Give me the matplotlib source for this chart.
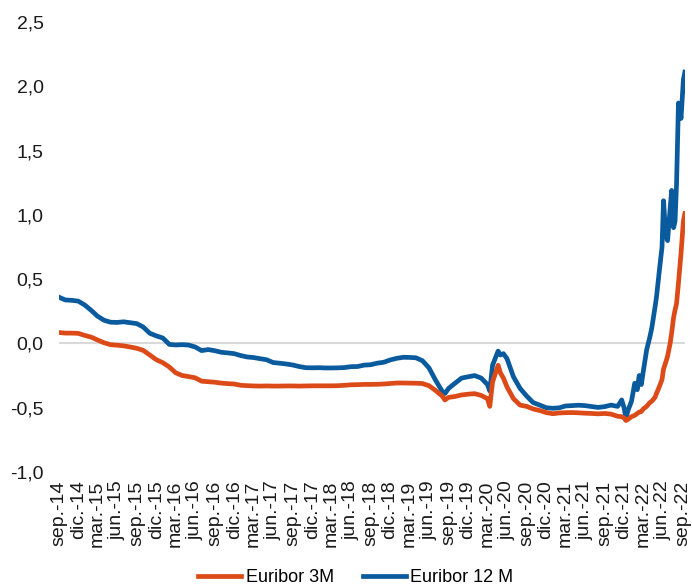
import matplotlib
matplotlib.use("Agg")
import matplotlib.pyplot as plt
import pandas as pd
from matplotlib.ticker import FuncFormatter

plt.rcParams['font.family'] = ['Liberation Sans', 'DejaVu Sans']

# Euribor observations (%), one shared date axis for both tenors
fechas = [
    "2014-09-01", "2014-10-01", "2014-11-01", "2014-12-01",
    "2015-01-01", "2015-02-01", "2015-03-01", "2015-04-01", "2015-05-01", "2015-06-01",
    "2015-07-01", "2015-08-01", "2015-09-01", "2015-10-01", "2015-11-01", "2015-12-01",
    "2016-01-01", "2016-02-01", "2016-03-01", "2016-04-01", "2016-05-01", "2016-06-01",
    "2016-07-01", "2016-08-01", "2016-09-01", "2016-10-01", "2016-11-01", "2016-12-01",
    "2017-01-01", "2017-02-01", "2017-03-01", "2017-04-01", "2017-05-01", "2017-06-01",
    "2017-07-01", "2017-08-01", "2017-09-01", "2017-10-01", "2017-11-01", "2017-12-01",
    "2018-01-01", "2018-02-01", "2018-03-01", "2018-04-01", "2018-05-01", "2018-06-01",
    "2018-07-01", "2018-08-01", "2018-09-01", "2018-10-01", "2018-11-01", "2018-12-01",
    "2019-01-01", "2019-02-01", "2019-03-01", "2019-04-01", "2019-05-01", "2019-06-01",
    "2019-07-01", "2019-08-01", "2019-08-15", "2019-09-01", "2019-10-01", "2019-11-01",
    "2019-12-01", "2020-01-01", "2020-02-01", "2020-03-01", "2020-03-12", "2020-03-25",
    "2020-04-20", "2020-05-01", "2020-05-15", "2020-06-01", "2020-07-01", "2020-08-01",
    "2020-09-01", "2020-10-01", "2020-11-01", "2020-12-01",
    "2021-01-01", "2021-02-01", "2021-03-01", "2021-04-01", "2021-05-01", "2021-06-01",
    "2021-07-01", "2021-08-01", "2021-09-01", "2021-10-01", "2021-11-01", "2021-11-20",
    "2021-12-01", "2021-12-10", "2021-12-20", "2022-01-05", "2022-01-20", "2022-02-01",
    "2022-02-10", "2022-02-20", "2022-03-01", "2022-03-17", "2022-04-01", "2022-04-10",
    "2022-04-25", "2022-05-02", "2022-05-17", "2022-05-28", "2022-06-04", "2022-06-14",
    "2022-06-23", "2022-07-05", "2022-07-12", "2022-07-21", "2022-07-28", "2022-08-04",
    "2022-08-13", "2022-08-25", "2022-09-05", "2022-09-12",
]

euribor_3m = [
    0.085, 0.08, 0.08, 0.078,
    0.062, 0.048, 0.027, 0.005, -0.010, -0.014,
    -0.019, -0.028, -0.038, -0.054, -0.090, -0.126,
    -0.150, -0.184, -0.228, -0.250, -0.258, -0.268,
    -0.294, -0.298, -0.302, -0.309, -0.313, -0.316,
    -0.326, -0.329, -0.331, -0.332, -0.331, -0.332,
    -0.332, -0.331, -0.331, -0.332, -0.331, -0.330,
    -0.330, -0.330, -0.330, -0.329, -0.326, -0.322,
    -0.321, -0.319, -0.319, -0.318, -0.316, -0.312,
    -0.308, -0.308, -0.309, -0.310, -0.312, -0.329,
    -0.365, -0.408, -0.440, -0.420, -0.413, -0.401,
    -0.395, -0.391, -0.405, -0.430, -0.490, -0.300,
    -0.170, -0.230, -0.270, -0.340, -0.430, -0.480,
    -0.490, -0.510, -0.522, -0.538,
    -0.547, -0.541, -0.539, -0.538, -0.540, -0.543,
    -0.545, -0.548, -0.545, -0.550, -0.567, -0.570,
    -0.580, -0.600, -0.590, -0.570, -0.560, -0.545,
    -0.535, -0.530, -0.510, -0.490, -0.460, -0.450,
    -0.420, -0.390, -0.330, -0.280, -0.200, -0.150,
    -0.100, 0.000, 0.080, 0.200, 0.260, 0.310,
    0.470, 0.700, 0.950, 1.010,
]

euribor_12m = [
    0.360, 0.338, 0.335, 0.329,
    0.298, 0.255, 0.212, 0.180, 0.165, 0.163,
    0.168, 0.161, 0.154, 0.128, 0.079, 0.059,
    0.042, -0.008, -0.012, -0.010, -0.013, -0.028,
    -0.056, -0.048, -0.057, -0.069, -0.074, -0.080,
    -0.095, -0.106, -0.110, -0.119, -0.127, -0.149,
    -0.154, -0.160, -0.168, -0.180, -0.189, -0.190,
    -0.189, -0.191, -0.191, -0.190, -0.188, -0.181,
    -0.180, -0.169, -0.166, -0.154, -0.147, -0.129,
    -0.116, -0.108, -0.109, -0.112, -0.134, -0.190,
    -0.283, -0.370, -0.390, -0.350, -0.310, -0.270,
    -0.260, -0.250, -0.270, -0.320, -0.370, -0.170,
    -0.060, -0.090, -0.080, -0.120, -0.260, -0.350,
    -0.410, -0.460, -0.480, -0.500,
    -0.505, -0.501, -0.487, -0.484, -0.481, -0.484,
    -0.491, -0.498, -0.492, -0.480, -0.490, -0.440,
    -0.500, -0.580, -0.520, -0.450, -0.310, -0.360,
    -0.250, -0.320, -0.220, -0.050, 0.050, 0.120,
    0.280, 0.360, 0.590, 0.750, 1.110, 0.850,
    0.800, 1.050, 1.190, 0.900, 0.950, 1.240,
    1.870, 1.750, 2.050, 2.110,
]

etiquetas_mes = {3: "mar.", 6: "jun.", 9: "sep.", 12: "dic."}

fechas_dt = pd.to_datetime(fechas)
ticks = pd.date_range("2014-09-01", "2022-09-01", freq="3MS")
tick_labels = [f"{etiquetas_mes[t.month]}-{t.strftime('%y')}" for t in ticks]

fig = plt.figure(figsize=(6.92, 5.87), dpi=100)
ax = fig.add_axes([0.085, 0.196, 0.905, 0.7665])

ax.axhline(0, color="#D9D9D9", lw=1.5, zorder=1)
ax.plot(fechas_dt, euribor_3m, color="#DC4A18", lw=3.4, label="Euribor 3M", zorder=3)
ax.plot(fechas_dt, euribor_12m, color="#0A5A9E", lw=3.4, label="Euribor 12 M", zorder=2)

ax.set_xlim(pd.Timestamp("2014-09-01"), pd.Timestamp("2022-09-13"))
ax.set_ylim(-1.0, 2.5)
ax.set_yticks([-1.0, -0.5, 0.0, 0.5, 1.0, 1.5, 2.0, 2.5])
ax.yaxis.set_major_formatter(FuncFormatter(lambda v, p: f"{v:.1f}".replace(".", ",")))
ax.set_xticks(ticks)
ax.set_xticklabels(tick_labels, rotation=90)
ax.tick_params(axis="both", length=0, labelsize=14, colors="#1A1A1A")
ax.tick_params(axis="y", pad=11)
ax.tick_params(axis="x", pad=6)

for s in ax.spines.values():
    s.set_visible(False)

fig.legend(loc="center", bbox_to_anchor=(0.514, 0.016), ncol=2, frameon=False,
           fontsize=13, handlelength=2.4, handletextpad=0.25, columnspacing=1.6)

fig.savefig("out.png", dpi=100)
